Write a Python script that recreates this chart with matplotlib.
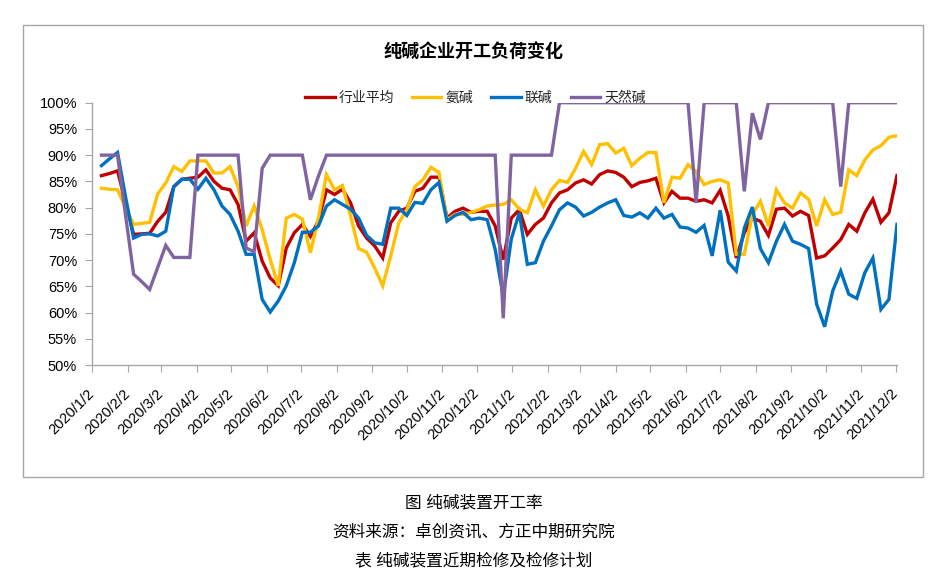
import pandas as pd
import matplotlib
matplotlib.use("Agg")
import matplotlib.pyplot as plt
from matplotlib.patches import Rectangle
from matplotlib.lines import Line2D

plt.rcParams['font.family'] = ['Liberation Sans', 'Noto Sans CJK SC', 'DejaVu Sans']

# weekly dates
dates = pd.date_range('2020-01-10', periods=100, freq='7D')

# 行业平均
avg = [86.1, 86.5, 87.0, 81.0, 74.9, 75.0, 75.1, 77.4, 79.1, 84.0,
       85.4, 85.6, 85.8, 87.2, 85.0, 83.7, 83.4, 80.6, 73.6, 75.2,
       69.8, 66.6, 65.1, 72.3, 75.2, 76.8, 74.5, 77.5, 83.4, 82.5,
       83.5, 80.9, 76.5, 74.2, 72.7, 70.4, 77.1, 79.3, 79.9, 83.1,
       83.7, 85.8, 85.8, 78.0, 79.3, 79.9, 79.1, 79.3, 79.3, 76.5,
       70.1, 78.0, 79.6, 74.9, 76.8, 78.0, 80.9, 82.8, 83.4, 84.7,
       85.3, 84.5, 86.3, 87.0, 86.7, 85.8, 84.0, 84.8, 85.1, 85.6,
       80.9, 83.1, 81.8, 81.8, 81.2, 81.5, 80.9, 83.3, 78.4, 70.4,
       75.2, 78.0, 77.4, 74.7, 79.7, 79.9, 78.4, 79.3, 78.5, 70.4,
       70.8, 72.3, 73.9, 76.8, 75.5, 79.0, 81.6, 77.2, 79.0, 86.1]

# 氨碱
ammonia = [83.7, 83.5, 83.4, 80.0, 76.8, 77.0, 77.2, 82.6, 84.7, 87.8,
           86.9, 88.9, 88.9, 88.9, 86.6, 86.6, 87.8, 84.0, 76.5, 80.3,
           75.8, 70.1, 65.1, 78.0, 78.7, 77.8, 71.4, 78.0, 86.3, 83.4,
           84.2, 78.4, 72.2, 71.5, 68.5, 65.1, 70.8, 77.1, 79.6, 84.0,
           85.3, 87.7, 86.7, 77.7, 78.7, 78.7, 79.1, 79.6, 80.3, 80.5,
           80.6, 81.5, 79.7, 79.0, 83.4, 80.3, 83.4, 85.2, 84.8, 87.5,
           90.7, 88.2, 92.0, 92.2, 90.4, 91.3, 88.0, 89.4, 90.5, 90.5,
           80.9, 85.8, 85.6, 88.2, 86.9, 84.4, 85.0, 85.3, 84.7, 71.1,
           71.1, 78.7, 81.2, 76.5, 83.4, 80.9, 79.9, 82.8, 81.6, 76.5,
           81.5, 78.7, 79.1, 87.2, 86.1, 89.1, 91.0, 91.8, 93.4, 93.7]

# 联碱
combined = [88.0, 89.3, 90.5, 82.0, 74.2, 74.9, 75.0, 74.6, 75.5, 84.0,
            85.4, 85.4, 83.5, 85.6, 83.4, 80.3, 78.7, 75.5, 71.1, 71.1,
            62.5, 60.1, 62.2, 65.1, 69.5, 75.3, 75.3, 76.5, 80.3, 81.5,
            80.6, 79.7, 78.0, 74.7, 73.3, 73.0, 79.9, 79.9, 78.5, 81.0,
            80.8, 83.4, 84.8, 77.4, 78.5, 79.1, 77.7, 78.0, 77.7, 72.0,
            63.0, 74.0, 79.0, 69.2, 69.5, 73.6, 76.5, 79.6, 80.9, 80.1,
            78.4, 79.1, 80.1, 80.9, 81.5, 78.5, 78.2, 79.0, 78.0, 79.9,
            78.0, 78.7, 76.3, 76.1, 75.3, 76.6, 70.8, 79.5, 69.6, 67.9,
            76.1, 80.1, 72.2, 69.5, 73.6, 76.8, 73.6, 73.0, 72.2, 61.6,
            57.3, 64.1, 67.9, 63.5, 62.7, 67.6, 70.4, 60.6, 62.5, 76.8]

# 天然碱
natural = [90, 90, 90, 78.5, 67.3, 65.9, 64.4, 68.6, 72.8, 70.5,
           70.5, 70.5, 90, 90, 90, 90, 90, 90, 72.3, 71.6,
           87.5, 90, 90, 90, 90, 90, 81.5, 86, 90, 90,
           90, 90, 90, 90, 90, 90, 90, 90, 90, 90,
           90, 90, 90, 90, 90, 90, 90, 90, 90, 90,
           58.9, 90, 90, 90, 90, 90, 90, 100, 100, 100,
           100, 100, 100, 100, 100, 100, 100, 100, 100, 100,
           100, 100, 100, 100, 80.9, 100, 100, 100, 100, 100,
           83.1, 98, 93, 100, 100, 100, 100, 100, 100, 100,
           100, 100, 84, 100, 100, 100, 100, 100, 100, 100]

names = ['行业平均', '氨碱', '联碱', '天然碱']
colors = ['#C00000', '#FFC000', '#0070C0', '#8064A2']
series = [avg, ammonia, combined, natural]

fig = plt.figure(figsize=(9.36, 5.74), dpi=100)
ax = fig.add_axes([0.0986, 0.3641, 0.8597, 0.457])

for vals, c in zip(series, colors):
    ax.plot(dates, [v / 100 for v in vals], color=c, lw=2.4, solid_joinstyle='miter')

ax.set_ylim(0.5, 1.0)
ax.set_yticks([0.5 + 0.05 * i for i in range(11)])
ax.set_yticklabels([f"{50 + 5 * i}%" for i in range(11)])
ax.set_xlim(pd.Timestamp('2020-01-02'), pd.Timestamp('2021-12-03'))
ticks = pd.date_range('2020-01-01', '2021-12-01', freq='MS') + pd.Timedelta(days=1)
ax.set_xticks(ticks)
ax.set_xticklabels([f"{d.year}/{d.month}/{d.day}" for d in ticks],
                   rotation=45, ha='right', va='center', rotation_mode='anchor')

for s in ['top', 'right']:
    ax.spines[s].set_visible(False)
for s in ['left', 'bottom']:
    ax.spines[s].set_color('#a6a6a6')
    ax.spines[s].set_linewidth(1)
ax.tick_params(axis='y', length=5, color='#a6a6a6', labelsize=10.5, pad=6)
ax.tick_params(axis='x', length=5, color='#a6a6a6', labelsize=10.5, pad=14)

# title + legend
fig.text(0.506, 0.91, '纯碱企业开工负荷变化', ha='center', va='center',
         fontsize=13, fontweight='bold')
handles = [Line2D([], [], color=c, lw=2.4) for c in colors]
fig.legend(handles, names, loc='center', bbox_to_anchor=(0.508, 0.829), ncol=4,
           frameon=False, fontsize=10, handlelength=2.1, handletextpad=0.3,
           columnspacing=1.3, labelcolor='#262626')

# chart border
fig.patches.append(Rectangle((0.0251, 0.169), 0.961, 0.7875, transform=fig.transFigure,
                             fill=False, edgecolor='#a6a6a6', lw=1))

# captions
fig.text(0.506, 0.1242, '图 纯碱装置开工率', ha='center', va='center', fontsize=12)
fig.text(0.506, 0.0737, '资料来源：卓创资讯、方正中期研究院', ha='center', va='center', fontsize=12)
fig.text(0.506, 0.0244, '表 纯碱装置近期检修及检修计划', ha='center', va='center', fontsize=12)

fig.savefig('out.png', dpi=100)
